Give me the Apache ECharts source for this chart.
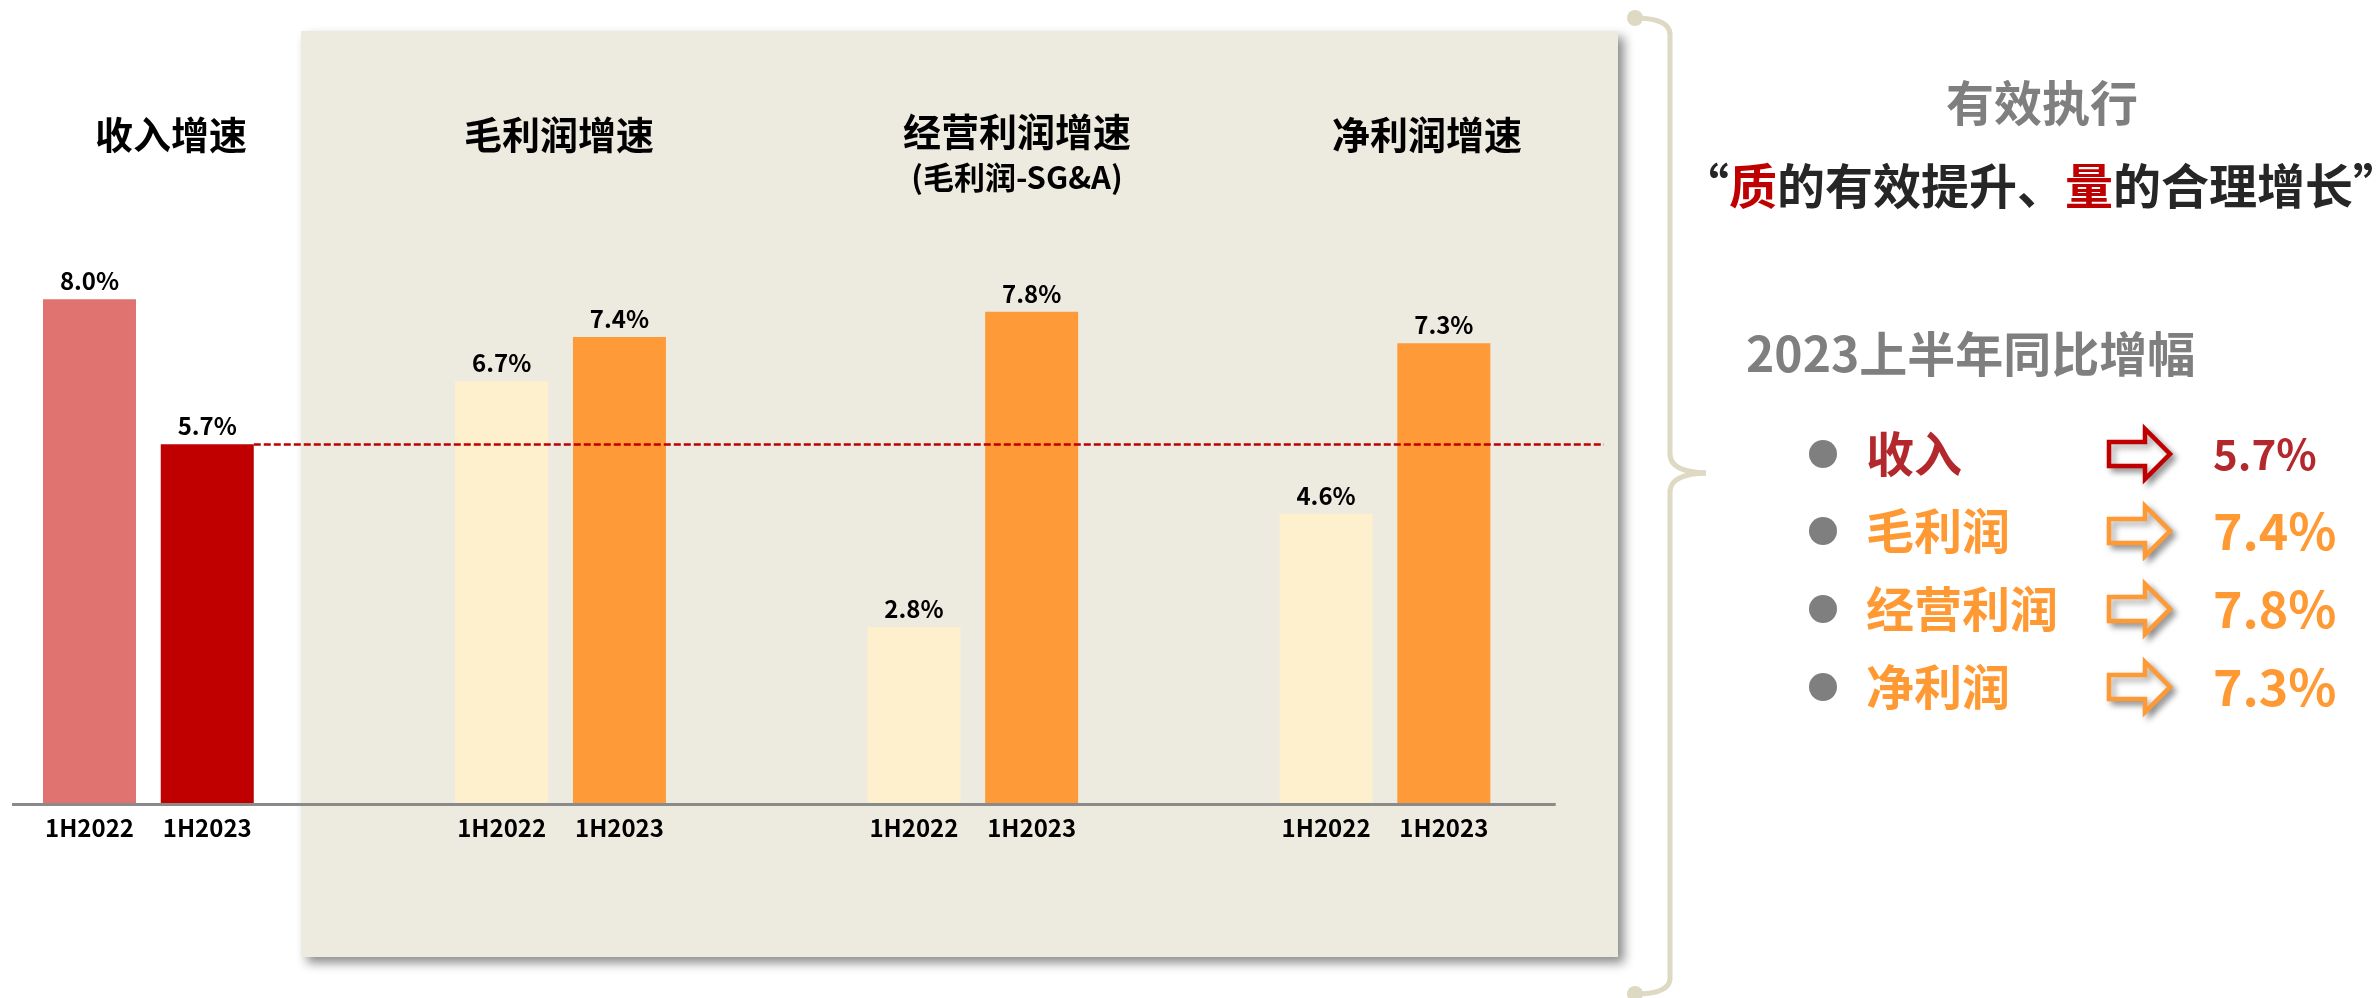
<!DOCTYPE html>
<html>
<head>
<meta charset="utf-8">
<script src="https://cdn.jsdelivr.net/npm/echarts@6/dist/echarts.min.js"></script>
<style>
  html, body { margin: 0; padding: 0; background: #fff; }
  #chart { width: 2379px; height: 998px; }
</style>
</head>
<body>
<div id="chart"></div>
<script>
// data
const groups = ['收入增速', '毛利润增速', '经营利润增速', '净利润增速'];
const periods = ['1H2022', '1H2023'];
const growth2022 = [8.0, 6.7, 2.8, 4.6];
const growth2023 = [5.7, 7.4, 7.8, 7.3];
const summaryNames = ['收入', '毛利润', '经营利润', '净利润'];

const FONT = '"Noto Sans CJK SC", "Noto Sans", sans-serif';
const revenueColors = ['#E0736F', '#C00000'];
const profitColors = ['#FEF0CD', '#FE9A37'];
const orange = '#FF9933';
const darkRed = '#B3282D';
const braceColor = '#DDD9C3';

// x slots: 2 slots between the two periods, 7 between groups
const slotOf = (gi, pi) => gi * 7 + pi * 2;
const xMin = -1.316, xMax = 25.72, axisEnd = 24.9;

const barData = [];
const tickPos = [];
const tickText = {};
groups.forEach((g, gi) => {
  [growth2022, growth2023].forEach((arr, pi) => {
    const x = slotOf(gi, pi);
    barData.push({
      value: [x, arr[gi]],
      itemStyle: { color: gi === 0 ? revenueColors[pi] : profitColors[pi] }
    });
    tickPos.push(x);
    tickText[x] = periods[pi];
  });
});

var chartDom = document.getElementById('chart');
var myChart = echarts.init(chartDom);

// annotation texts and shapes around the plot
const graphics = [];
graphics.push({
  type: 'rect', z: -10,
  shape: { x: 301, y: 31, width: 1317, height: 926 },
  style: { fill: '#EDEAE0', shadowBlur: 10, shadowOffsetX: 6, shadowOffsetY: 6, shadowColor: 'rgba(0,0,0,0.45)' }
});

const titlePos = [[171, 135], [559, 135], [1017, 132], [1427, 135]];
groups.forEach((g, i) => {
  graphics.push({
    type: 'text', x: titlePos[i][0], y: titlePos[i][1],
    style: { text: g, font: 'bold 38px ' + FONT, fill: '#000', textAlign: 'center', textVerticalAlign: 'middle' }
  });
});
graphics.push({
  type: 'text', x: 1017, y: 177,
  style: { text: '(毛利润-SG&A)', font: 'bold 31px ' + FONT, fill: '#000', textAlign: 'center', textVerticalAlign: 'middle' }
});

// curly bracket
const braceStyle = { fill: null, stroke: braceColor, lineWidth: 5 };
graphics.push({ type: 'bezierCurve', shape: { x1: 1635, y1: 18, cpx1: 1669, cpy1: 18, x2: 1670, y2: 34 }, style: braceStyle });
graphics.push({ type: 'line', shape: { x1: 1670, y1: 33, x2: 1670, y2: 456 }, style: braceStyle });
graphics.push({ type: 'bezierCurve', shape: { x1: 1670, y1: 455, cpx1: 1671, cpy1: 472, x2: 1706, y2: 473 }, style: braceStyle });
graphics.push({ type: 'bezierCurve', shape: { x1: 1706, y1: 473, cpx1: 1671, cpy1: 474, x2: 1670, y2: 491 }, style: braceStyle });
graphics.push({ type: 'line', shape: { x1: 1670, y1: 490, x2: 1670, y2: 980 }, style: braceStyle });
graphics.push({ type: 'bezierCurve', shape: { x1: 1670, y1: 979, cpx1: 1669, cpy1: 994, x2: 1635, y2: 994 }, style: braceStyle });
graphics.push({ type: 'circle', shape: { cx: 1635, cy: 18, r: 8 }, style: { fill: braceColor } });
graphics.push({ type: 'circle', shape: { cx: 1635, cy: 994, r: 8 }, style: { fill: braceColor } });

graphics.push({
  type: 'text', x: 2042, y: 103,
  style: { text: '有效执行', font: 'bold 48px ' + FONT, fill: '#7F7F7F', textAlign: 'center', textVerticalAlign: 'middle' }
});
graphics.push({
  type: 'text', x: 2041, y: 186,
  style: {
    text: '“{r|质}的有效提升、{r|量}的合理增长”',
    font: 'bold 48px ' + FONT, fill: '#262626', textAlign: 'center', textVerticalAlign: 'middle',
    rich: { r: { fill: '#C00000', font: 'bold 48px ' + FONT } }
  }
});
graphics.push({
  type: 'text', x: 1746, y: 354,
  style: { text: '2023上半年同比增幅', font: 'bold 48px ' + FONT, fill: '#7F7F7F', textAlign: 'left', textVerticalAlign: 'middle' }
});

const rowY = [454, 531, 609, 687];
summaryNames.forEach((name, i) => {
  const cy = rowY[i];
  const col = i === 0 ? darkRed : orange;
  const stroke = i === 0 ? '#C00000' : orange;
  graphics.push({ type: 'circle', shape: { cx: 1823, cy: cy, r: 14 }, style: { fill: '#7F7F7F' } });
  graphics.push({
    type: 'text', x: 1866, y: cy,
    style: { text: name, font: 'bold 48px ' + FONT, fill: col, textAlign: 'left', textVerticalAlign: 'middle' }
  });
  graphics.push({
    type: 'polygon',
    shape: { points: [[2109, cy - 12], [2145, cy - 12], [2145, cy - 25], [2170, cy], [2145, cy + 25], [2145, cy + 12], [2109, cy + 12]] },
    style: { fill: '#fff', stroke: stroke, lineWidth: 4.5, shadowBlur: 6, shadowOffsetX: 4, shadowOffsetY: 4, shadowColor: 'rgba(0,0,0,0.35)' }
  });
  graphics.push({
    type: 'text', x: 2213, y: cy,
    style: { text: growth2023[i].toFixed(1) + '%', font: 'bold ' + (i === 0 ? 42 : 50) + 'px ' + FONT, fill: col, textAlign: 'left', textVerticalAlign: 'middle' }
  });
});

var option = {
  animation: false,
  backgroundColor: '#fff',
  grid: { left: 12, right: 775, top: 173, bottom: 194 },
  xAxis: {
    type: 'value',
    min: xMin,
    max: xMax,
    axisLine: { show: false },
    axisTick: { show: false },
    splitLine: { show: false },
    axisLabel: {
      customValues: tickPos,
      formatter: (v) => tickText[v] || '',
      margin: 12,
      color: '#000',
      fontSize: 24,
      fontWeight: 'bold',
      fontFamily: FONT
    }
  },
  yAxis: { type: 'value', min: 0, max: 10, show: false },
  graphic: { elements: graphics },
  series: [
    {
      name: '增速',
      type: 'bar',
      barWidth: 93,
      data: barData,
      label: {
        show: true,
        position: 'top',
        distance: 6,
        formatter: (d) => d.value[1].toFixed(1) + '%',
        color: '#000',
        fontSize: 24,
        fontWeight: 'bold',
        fontFamily: FONT
      },
      markLine: {
        silent: true,
        symbol: ['none', 'none'],
        label: { show: false },
        data: [
          [
            { coord: [xMin, 0], lineStyle: { color: '#8A8A8A', width: 3, type: 'solid' } },
            { coord: [axisEnd, 0] }
          ],
          [
            { coord: [slotOf(0, 1) + 0.79, growth2023[0]], lineStyle: { color: '#C00000', width: 2.5, type: [7, 3] } },
            { coord: [xMax, growth2023[0]] }
          ]
        ]
      }
    }
  ]
};
myChart.setOption(option);
</script>
</body>
</html>
